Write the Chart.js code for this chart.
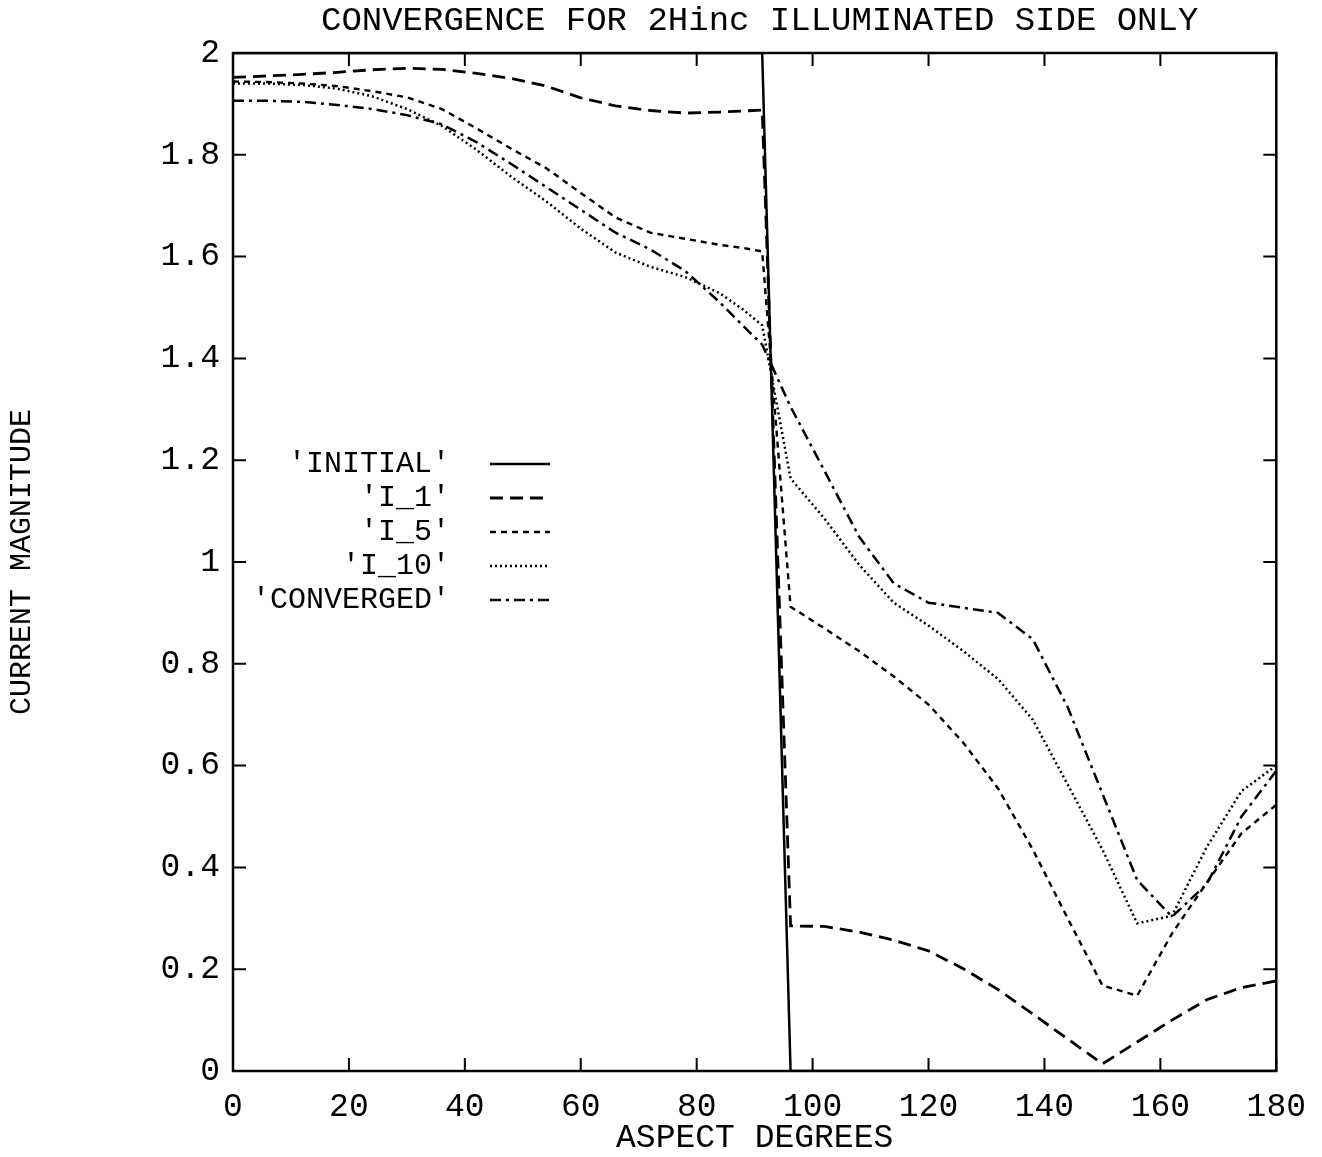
<!DOCTYPE html>
<html>
<head>
<meta charset="utf-8">
<script src="https://cdn.jsdelivr.net/npm/chart.js@4.4.1/dist/chart.umd.min.js"></script>
<style>
  html, body { margin: 0; padding: 0; background: #fff; }
  #wrap { width: 1322px; height: 1157px; }
</style>
</head>
<body>
<div id="wrap"><canvas id="chart" width="1322" height="1157"></canvas></div>
<script>
// aspect angle samples (degrees) shared by every curve
const aspect = [0, 6, 12, 18, 24, 30, 36, 42, 48, 54, 60, 66, 72, 78, 84, 88, 91.3,
  96.2, 102, 108, 114, 120, 126, 132, 138, 144, 150, 156, 162, 168, 174, 180];

const initial = [2, 2, 2, 2, 2, 2, 2, 2, 2, 2, 2, 2, 2, 2, 2, 2, 2,
  0, 0, 0, 0, 0, 0, 0, 0, 0, 0, 0, 0, 0, 0, 0];
const iter1 = [1.952, 1.955, 1.958, 1.962, 1.967, 1.97, 1.968, 1.96, 1.95, 1.935, 1.912, 1.896,
  1.887, 1.882, 1.884, 1.886, 1.888,
  0.285, 0.284, 0.273, 0.257, 0.236, 0.201, 0.16, 0.112, 0.063, 0.014, 0.057, 0.1, 0.14, 0.164, 0.177];
const iter5 = [1.944, 1.943, 1.94, 1.935, 1.925, 1.913, 1.89, 1.852, 1.812, 1.774, 1.725, 1.677,
  1.647, 1.635, 1.623, 1.617, 1.61,
  0.912, 0.87, 0.825, 0.775, 0.72, 0.645, 0.555, 0.435, 0.3, 0.168, 0.148, 0.27, 0.37, 0.467, 0.523];
const iter10 = [1.94, 1.94, 1.937, 1.93, 1.915, 1.89, 1.857, 1.81, 1.757, 1.709, 1.655, 1.608,
  1.58, 1.56, 1.528, 1.496, 1.465,
  1.164, 1.086, 0.995, 0.92, 0.875, 0.825, 0.77, 0.69, 0.563, 0.435, 0.29, 0.305, 0.44, 0.55, 0.6];
const converged = [1.906, 1.906, 1.904, 1.898, 1.89, 1.878, 1.86, 1.825, 1.782, 1.737, 1.692, 1.647,
  1.614, 1.572, 1.51, 1.464, 1.427,
  1.305, 1.18, 1.05, 0.958, 0.92, 0.91, 0.9, 0.848, 0.715, 0.545, 0.375, 0.303, 0.367, 0.5, 0.59];

const xTickValues = [0, 20, 40, 60, 80, 100, 120, 140, 160, 180];
const yTickValues = [0, 0.2, 0.4, 0.6, 0.8, 1, 1.2, 1.4, 1.6, 1.8, 2];

const MONO = "'Liberation Mono', 'Courier New', monospace";
const TICK = 13;

function pts(values) {
  return aspect.map((x, i) => ({ x: x, y: values[i] }));
}

function line(label, values, dash, width) {
  return {
    label: label,
    data: pts(values),
    borderColor: "#000",
    borderWidth: width,
    borderDash: dash,
    pointRadius: 0,
    tension: 0,
    fill: false,
  };
}

// frame with inward ticks on all four sides, title and gnuplot-like key
const framePlugin = {
  id: "frame",
  afterDatasetsDraw(chart) {
    const { ctx, chartArea: ca, scales } = chart;
    ctx.save();
    ctx.strokeStyle = "#000";
    ctx.setLineDash([]);
    ctx.lineWidth = 2.5;
    ctx.strokeRect(ca.left, ca.top, ca.right - ca.left, ca.bottom - ca.top);

    ctx.lineWidth = 2;
    ctx.beginPath();
    xTickValues.forEach((v) => {
      const px = scales.x.getPixelForValue(v);
      ctx.moveTo(px, ca.bottom); ctx.lineTo(px, ca.bottom - TICK);
      ctx.moveTo(px, ca.top); ctx.lineTo(px, ca.top + TICK);
    });
    yTickValues.forEach((v) => {
      const py = scales.y.getPixelForValue(v);
      ctx.moveTo(ca.left, py); ctx.lineTo(ca.left + TICK, py);
      ctx.moveTo(ca.right, py); ctx.lineTo(ca.right - TICK, py);
    });
    ctx.stroke();

    // title
    ctx.fillStyle = "#000";
    ctx.font = "34px " + MONO;
    ctx.textAlign = "center";
    ctx.textBaseline = "middle";
    ctx.fillText("CONVERGENCE FOR 2Hinc ILLUMINATED SIDE ONLY", (ca.left + ca.right) / 2 + 5, 21);

    // key
    ctx.font = "30px " + MONO;
    ctx.textAlign = "right";
    const textRight = ca.left + 217;
    const y0 = ca.top + 411;
    chart.data.datasets.forEach((ds, i) => {
      const y = y0 + i * 34;
      ctx.fillText(ds.label, textRight, y);
      ctx.save();
      ctx.lineWidth = ds.borderWidth;
      ctx.setLineDash(ds.borderDash || []);
      ctx.beginPath();
      ctx.moveTo(textRight + 40, y);
      ctx.lineTo(textRight + 100, y);
      ctx.stroke();
      ctx.restore();
    });
    ctx.restore();
  },
};

new Chart(document.getElementById("chart"), {
  type: "line",
  data: {
    datasets: [
      line("'INITIAL'", initial, [], 2.5),
      line("'I_1'", iter1, [13, 7], 2.8),
      line("'I_5'", iter5, [6, 5], 2.4),
      line("'I_10'", iter10, [2, 3], 2.5),
      line("'CONVERGED'", converged, [11, 5, 3, 5], 2.5),
    ],
  },
  options: {
    responsive: false,
    animation: false,
    devicePixelRatio: 1,
    layout: { padding: { top: 53, right: 44, left: 0, bottom: 0 } },
    plugins: {
      legend: { display: false },
      tooltip: { enabled: false },
      title: { display: false },
    },
    scales: {
      x: {
        type: "linear",
        min: 0,
        max: 180,
        afterFit: (s) => { s.height = 86; },
        afterBuildTicks: (s) => { s.ticks = xTickValues.map((v) => ({ value: v })); },
        grid: { display: false, drawTicks: false },
        border: { display: false },
        ticks: {
          color: "#000",
          padding: 16,
          maxRotation: 0,
          autoSkip: false,
          font: { family: MONO, size: 33 },
        },
        title: {
          display: true,
          text: "ASPECT DEGREES",
          color: "#000",
          font: { family: MONO, size: 33, lineHeight: 1 },
          padding: { top: 0, bottom: 2 },
        },
      },
      y: {
        type: "linear",
        min: 0,
        max: 2,
        afterFit: (s) => { s.width = 233; },
        afterBuildTicks: (s) => { s.ticks = yTickValues.map((v) => ({ value: v })); },
        grid: { display: false, drawTicks: false },
        border: { display: false },
        ticks: {
          color: "#000",
          padding: 13,
          autoSkip: false,
          font: { family: MONO, size: 33 },
          callback: (v) => String(Number(v.toFixed(1))),
        },
        title: {
          display: true,
          text: "CURRENT MAGNITUDE",
          color: "#000",
          font: { family: MONO, size: 30, lineHeight: 1.2 },
          padding: { top: 4, bottom: 0 },
        },
      },
    },
  },
  plugins: [framePlugin],
});
</script>
</body>
</html>
